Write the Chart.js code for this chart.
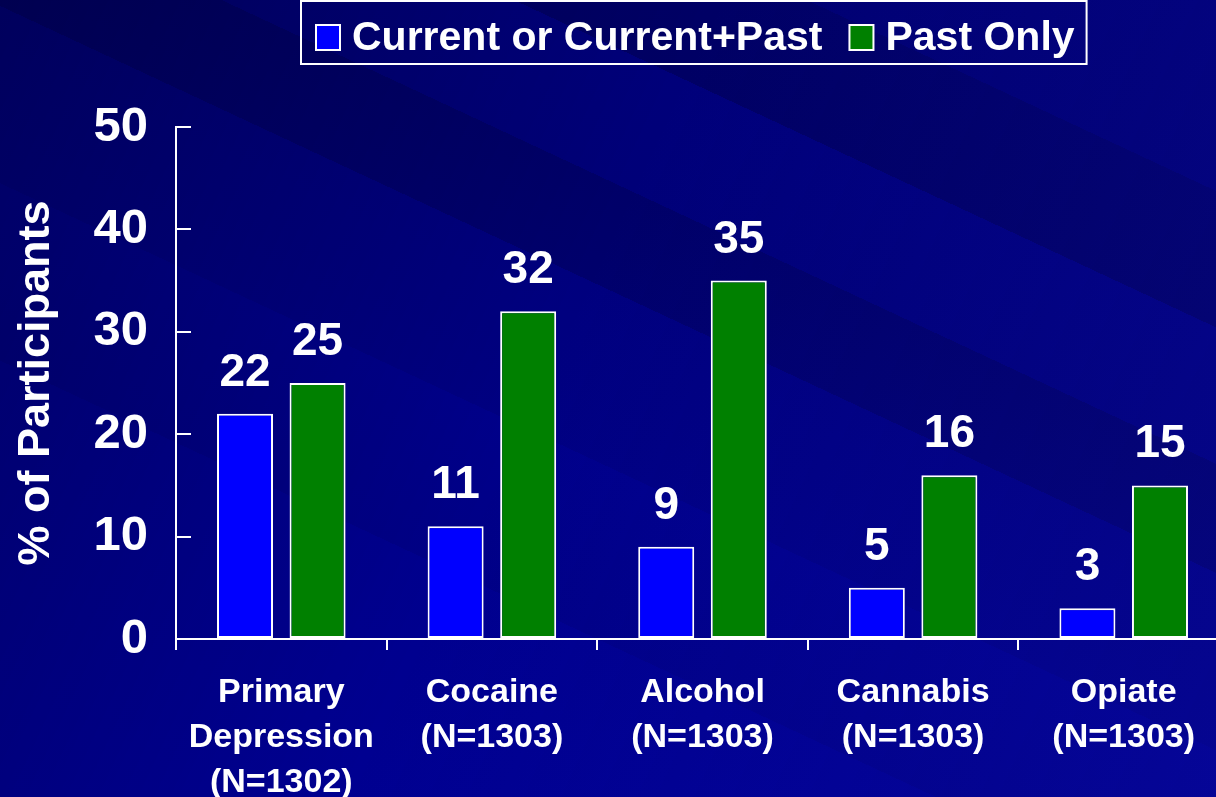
<!DOCTYPE html>
<html>
<head>
<meta charset="UTF-8">
<title>Participants chart</title>
<script src="https://cdn.jsdelivr.net/npm/chart.js@4.4.0/dist/chart.umd.min.js"></script>
<style>
  html, body { margin: 0; padding: 0; overflow: hidden; }
  body {
    width: 1216px; height: 797px;
    background-color: #00007c;
    background-image:
      linear-gradient(115deg, rgba(0,0,30,0.35) 0%, rgba(0,0,0,0) 45%, rgba(30,30,210,0.18) 100%),
      linear-gradient(205deg, #000074 0%, #000072 14%, #000066 14%, #000064 24%, #00007a 24%, #000078 34%, #000068 34%, #00006c 42%, #00007e 42%, #000082 55%, #00008a 55%, #000086 68%, #00008e 68%, #000092 100%);
  }
  #wrap { width: 1229px; height: 797px; position: absolute; left: 0; top: 0; }
</style>
</head>
<body>
<div id="wrap"><canvas id="myChart"></canvas></div>

<script>
  // data
  const categories = [
    ['Primary', 'Depression', '(N=1302)'],
    ['Cocaine', '(N=1303)'],
    ['Alcohol', '(N=1303)'],
    ['Cannabis', '(N=1303)'],
    ['Opiate', '(N=1303)']
  ];
  const currentValues = [22, 11, 9, 5, 3];
  const pastOnlyValues = [25, 32, 35, 16, 15];
  const yTicks = [0, 10, 20, 30, 40, 50];

  const FONT = "'Liberation Sans', Arial, sans-serif";

  // value labels above the bars
  const valueLabels = {
    id: 'valueLabels',
    afterDatasetsDraw(chart) {
      const ctx = chart.ctx;
      ctx.save();
      ctx.fillStyle = '#ffffff';
      ctx.font = 'bold 46px ' + FONT;
      ctx.textAlign = 'center';
      ctx.textBaseline = 'alphabetic';
      chart.data.datasets.forEach(function(ds, i) {
        chart.getDatasetMeta(i).data.forEach(function(bar, j) {
          ctx.fillText(ds.data[j], bar.x, bar.y - 28);
        });
      });
      ctx.restore();
    }
  };

  // boxed legend at the top
  const boxLegend = {
    id: 'boxLegend',
    afterDraw(chart) {
      const ctx = chart.ctx;
      ctx.save();
      ctx.font = 'bold 41px ' + FONT;
      ctx.textBaseline = 'alphabetic';
      let x = 316;
      chart.data.datasets.forEach(function(ds) {
        ctx.fillStyle = ds.backgroundColor;
        ctx.fillRect(x, 25, 24, 25);
        ctx.strokeStyle = '#ffffff';
        ctx.lineWidth = 2;
        ctx.strokeRect(x, 25, 24, 25);
        ctx.fillStyle = '#ffffff';
        ctx.fillText(ds.label, x + 36, 50);
        x += 36 + ctx.measureText(ds.label).width + 27;
      });
      ctx.strokeStyle = '#ffffff';
      ctx.lineWidth = 2;
      ctx.strokeRect(301, 1, x - 27 + 12 - 301, 63);
      ctx.restore();
    }
  };

  Chart.defaults.font.family = FONT;
  Chart.defaults.color = '#ffffff';

  new Chart('myChart', {
    type: 'bar',
    data: {
      labels: categories,
      datasets: [{
        label: 'Current or Current+Past',
        data: currentValues,
        backgroundColor: '#0000ff',
        borderColor: '#ffffff',
        borderWidth: 2,
        borderSkipped: false
      }, {
        label: 'Past Only',
        data: pastOnlyValues,
        backgroundColor: '#008000',
        borderColor: '#ffffff',
        borderWidth: 2,
        borderSkipped: false
      }]
    },
    options: {
      responsive: true,
      maintainAspectRatio: false,
      animation: false,
      barPercentage: 0.772,
      categoryPercentage: 0.689,
      layout: { padding: { top: 127, right: 0, left: 0, bottom: 0 } },
      plugins: {
        legend: { display: false },
        tooltip: { enabled: false }
      },
      scales: {
        x: {
          afterFit: function(scale) { scale.height = 158; },
          grid: { drawOnChartArea: false, color: '#ffffff', lineWidth: 2, tickLength: 11, offset: true },
          border: { color: '#ffffff', width: 2 },
          ticks: { color: '#ffffff', font: { size: 34, weight: 'bold', lineHeight: 1.32 }, padding: 20, maxRotation: 0, autoSkip: false }
        },
        y: {
          min: 0,
          max: 50,
          afterFit: function(scale) { scale.width = 176; },
          afterBuildTicks: function(scale) { scale.ticks = yTicks.map(function(v) { return { value: v }; }); },
          grid: { drawOnChartArea: false, color: '#ffffff', lineWidth: 2, tickLength: -15 },
          border: { color: '#ffffff', width: 2 },
          ticks: { color: '#ffffff', font: { size: 49, weight: 'bold' }, padding: 43 },
          title: { display: true, text: '% of Participants', color: '#ffffff', font: { size: 45, weight: 'bold' }, padding: { top: 10, bottom: 0 } }
        }
      }
    },
    plugins: [valueLabels, boxLegend]
  });
</script>
</body>
</html>
